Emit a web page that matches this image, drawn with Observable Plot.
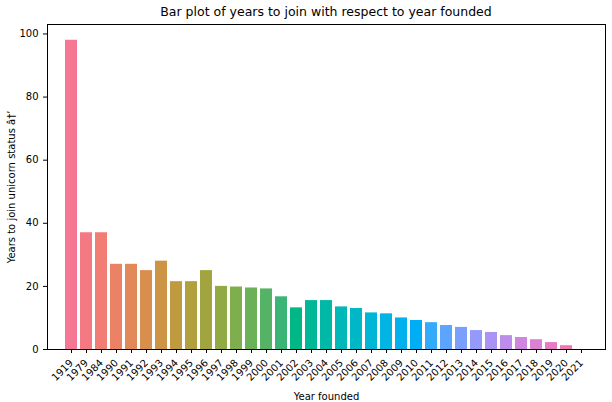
<!DOCTYPE html>
<html><head>
<script src="https://cdn.jsdelivr.net/npm/d3@7"></script>
<script src="https://cdn.jsdelivr.net/npm/@observablehq/plot@0.6"></script>
<style>
body{margin:0;background:#fff;font-family:"DejaVu Sans",sans-serif;}
#t{height:20px;width:612px;text-align:center;font-size:12.5px;line-height:24px;padding-left:40px;box-sizing:border-box;}
</style>
</head><body>
<div id="t">Bar plot of years to join with respect to year founded</div>
<div id="c"></div>
<script>
const years = ["1919","1979","1984","1990","1991","1992","1993","1994","1995","1996","1997","1998","1999","2000","2001","2002","2003","2004","2005","2006","2007","2008","2009","2010","2011","2012","2013","2014","2015","2016","2017","2018","2019","2020","2021"];
const yearsToJoin = [98,37,37,27,27,25,28,21.5,21.5,25,20,19.8,19.5,19.2,16.7,13.2,15.5,15.5,13.5,13,11.6,11.3,10,9.2,8.5,7.6,7,6,5.4,4.4,3.8,3.1,2.2,1.2,0];
const data = years.map((y,i)=>({year:y, value:yearsToJoin[i]}));
const colors = years.map((y,i)=>d3.hcl(10 + i*360/35, 52, 66).formatHex());
const chart = Plot.plot({
  width:612, height:382,
  marginLeft:47, marginRight:7, marginTop:4, marginBottom:53,
  style:{fontFamily:"DejaVu Sans", fontSize:"10px", color:"#000"},
  x:{domain:years, padding:0.2, label:"Year founded", labelAnchor:"center", labelOffset:50, tickRotate:-45, tickSize:4},
  y:{domain:[0,103], ticks:[0,20,40,60,80,100], label:"Years to join unicorn status", labelAnchor:"center", labelOffset:40, tickSize:4},
  color:{type:"ordinal", domain:years, range:colors},
  marks:[
    Plot.barY(data,{x:"year", y:"value", fill:"year"}),
    Plot.frame({stroke:"#000"})
  ]
});
document.getElementById("c").appendChild(chart);
</script>
</body></html>
